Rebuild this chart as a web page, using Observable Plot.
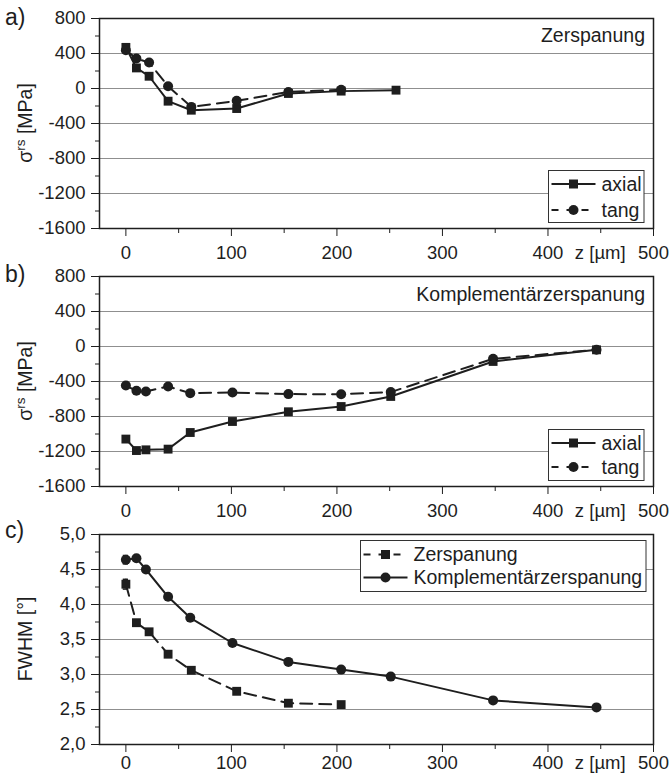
<!DOCTYPE html>
<html><head><meta charset="utf-8">
<script src="https://cdn.jsdelivr.net/npm/d3@7"></script>
<script src="https://cdn.jsdelivr.net/npm/@observablehq/plot@0.6"></script>
<style>
body{margin:0;background:#fff;}
#c{position:relative;width:672px;height:777px;overflow:hidden;}
#c svg{position:absolute;left:0;overflow:visible;}
</style></head><body><div id="c"></div>
<script>
// ---------- data ----------
// panel a) Zerspanung: residual stress sigma_rs [MPa] vs depth z [µm]
const zA_axial = [0, 10, 22, 40, 62, 105, 154, 204, 256];
const sA_axial = [470, 235, 140, -145, -248, -229, -57, -30, -19];
const zA_tang  = [0, 10, 22, 40, 62, 105, 154, 204];
const sA_tang  = [438, 343, 297, 26, -210, -141, -40, -15];
// panel b) Komplementärzerspanung
const zB_axial = [0, 10, 19, 40, 61, 101, 154, 204, 251, 348, 446];
const sB_axial = [-1058, -1189, -1181, -1173, -983, -857, -746, -686, -571, -171, -38];
const zB_tang  = [0, 10, 19, 40, 61, 101, 154, 204, 251, 348, 446];
const sB_tang  = [-446, -506, -514, -457, -533, -526, -544, -545, -521, -141, -38];
// panel c) FWHM [°]
const zC_zer = [0, 10, 22, 40, 62, 105, 154, 204];
const fC_zer = [4.29, 3.74, 3.61, 3.29, 3.06, 2.76, 2.59, 2.57];
const eC_zer = [0.07, 0, 0, 0, 0, 0, 0, 0];
const zC_kom = [0, 10, 19, 40, 61, 101, 154, 204, 251, 348, 446];
const fC_kom = [4.64, 4.66, 4.50, 4.11, 3.81, 3.45, 3.18, 3.07, 2.97, 2.63, 2.53];
const eC_kom = [0.06, 0.03, 0.03, 0.04, 0.04, 0, 0, 0, 0, 0, 0];
// ticks
const xMajor = [0, 100, 200, 300, 400, 500];
const xMinor = [50, 150, 250, 350, 450];
const sMajor = [-1600, -1200, -800, -400, 0, 400, 800];
const sMinor = [-1400, -1000, -600, -200, 200, 600];
const fMajor = [2.0, 2.5, 3.0, 3.5, 4.0, 4.5, 5.0];
const fMinor = [2.25, 2.75, 3.25, 3.75, 4.25, 4.75];

const FONT = '"Liberation Sans", Arial, Helvetica, sans-serif';
const INK = "#1e1e1e";
const TICKFS = 18.5, TEXTFS = 19.5;
const zip = (z, v, e) => z.map((d, i) => ({z: d, v: v[i], e: e ? e[i] : 0}));

function panel(o) {
  const marks = [
    Plot.gridY(o.yMajor.filter(v => v > o.ydomain[0] && v < o.ydomain[1]),
      {stroke: "#8f8f8f", strokeOpacity: 1, strokeWidth: 1}),
    Plot.axisX(xMajor, {label: null, tickSize: 8, tickPadding: o.xPad, fontSize: TICKFS,
      tickFormat: d => (d === 500 ? "500" : String(d)), stroke: INK, fill: INK}),
    Plot.axisX(xMinor, {label: null, tickSize: 5, tickFormat: () => "", stroke: INK}),
    Plot.axisY(o.yMajor, {label: null, tickSize: 8, tickPadding: 6, fontSize: TICKFS, tickFormat: o.yFmt, stroke: INK, fill: INK}),
    Plot.axisY(o.yMinor, {label: null, tickSize: 4, tickFormat: () => "", stroke: INK}),
    Plot.frame({stroke: INK, strokeWidth: 1.5})
  ];
  for (const s of o.series) {
    const data = zip(s.z, s.v, s.e);
    if (s.e) {
      const ed = data.filter(d => d.e > 0);
      marks.push(Plot.ruleX(ed, {x: "z", y1: d => d.v - d.e, y2: d => d.v + d.e, stroke: INK, strokeWidth: 1.5}));
      marks.push(Plot.ruleY(ed, {y: d => d.v + d.e, x1: d => d.z - 2.5, x2: d => d.z + 2.5, stroke: INK, strokeWidth: 1.5}));
      marks.push(Plot.ruleY(ed, {y: d => d.v - d.e, x1: d => d.z - 2.5, x2: d => d.z + 2.5, stroke: INK, strokeWidth: 1.5}));
    }
    marks.push(Plot.line(data, {x: "z", y: "v", stroke: INK, strokeWidth: 2, strokeDasharray: s.dash ? "12,7" : null}));
    marks.push(Plot.dot(data, {x: "z", y: "v", symbol: s.symbol, r: 5, fill: INK, stroke: "none"}));
  }
  const svg = Plot.plot({
    width: 672, height: o.height,
    marginLeft: 99, marginRight: 19, marginTop: 18, marginBottom: o.height - 18 - 210,
    style: {fontFamily: FONT, fontSize: TICKFS + "px", color: INK, background: "transparent"},
    x: {domain: [-25, 500]},
    y: {domain: o.ydomain},
    marks
  });
  svg.style.top = o.top + "px";
  const sel = d3.select(svg);
  const x = svg.scale("x");
  const T = (s) => s.append("text").attr("font-family", FONT).attr("fill", INK).attr("text-anchor", "start");
  // x label between 400 and 500
  T(sel).attr("x", x.apply(450)).attr("y", 228 + 8 + o.xPad).attr("dy", "0.71em")
    .attr("text-anchor", "middle").attr("font-size", TICKFS).text("z [µm]");
  // panel letter
  T(sel).attr("x", 5).attr("y", o.letterY).attr("font-size", 23).text(o.letter);
  // y label
  const yl = T(sel).attr("transform", `translate(32,${18 + 105}) rotate(-90)`)
    .attr("text-anchor", "middle").attr("font-size", 19.5);
  if (o.yLabel === "sigma") {
    yl.append("tspan").text("σ");
    yl.append("tspan").attr("dy", -7).attr("font-size", 13.5).text("rs");
    yl.append("tspan").attr("dy", 7).text(" [MPa]");
  } else {
    yl.text(o.yLabel);
  }
  // title inside
  if (o.title) {
    T(sel).attr("x", 645).attr("y", o.titleY).attr("text-anchor", "end")
      .attr("font-size", TEXTFS).text(o.title);
  }
  // legend
  const L = o.legend;
  const g = sel.append("g");
  g.append("rect").attr("x", L.x).attr("y", L.y).attr("width", L.w).attr("height", L.h)
    .attr("fill", "#fff").attr("stroke", "#333").attr("stroke-width", 1);
  L.items.forEach((it, i) => {
    const cy = L.y + L.r0 + i * L.dr;
    g.append("line").attr("x1", L.x + 3).attr("x2", L.x + L.sw).attr("y1", cy).attr("y2", cy)
      .attr("stroke", INK).attr("stroke-width", 2)
      .attr("stroke-dasharray", it.dash ? "7,8" : null);
    const mx = L.x + 3 + (L.sw - 3) / 2;
    if (it.symbol === "square") g.append("rect").attr("x", mx - 4.5).attr("y", cy - 4.5).attr("width", 9).attr("height", 9).attr("fill", INK);
    else g.append("circle").attr("cx", mx).attr("cy", cy).attr("r", 5).attr("fill", INK);
    T(g).attr("x", L.x + L.sw + 6).attr("y", cy).attr("dy", "0.35em")
      .attr("font-size", TEXTFS).text(it.label);
  });
  document.getElementById("c").appendChild(svg);
}

const fmtS = d => String(d);
const fmtF = d => d.toFixed(1).replace(".", ",");

panel({top: 0, height: 258, xPad: 9.5, ydomain: [-1600, 800], yMajor: sMajor, yMinor: sMinor, yFmt: fmtS,
  letter: "a)", letterY: 25, yLabel: "sigma", title: "Zerspanung", titleY: 42,
  series: [
    {z: zA_axial, v: sA_axial, symbol: "square", dash: false},
    {z: zA_tang, v: sA_tang, symbol: "circle", dash: true}
  ],
  legend: {x: 548.5, y: 170.5, w: 95.5, h: 52, sw: 47, r0: 13.5, dr: 26, items: [
    {label: "axial", symbol: "square", dash: false},
    {label: "tang", symbol: "circle", dash: true}]}
});
panel({top: 258, height: 258, xPad: 9.5, ydomain: [-1600, 800], yMajor: sMajor, yMinor: sMinor, yFmt: fmtS,
  letter: "b)", letterY: 24, yLabel: "sigma", title: "Komplementärzerspanung", titleY: 43,
  series: [
    {z: zB_axial, v: sB_axial, symbol: "square", dash: false},
    {z: zB_tang, v: sB_tang, symbol: "circle", dash: true}
  ],
  legend: {x: 548.5, y: 171.5, w: 95.5, h: 51, sw: 47, r0: 13.5, dr: 24, items: [
    {label: "axial", symbol: "square", dash: false},
    {label: "tang", symbol: "circle", dash: true}]}
});
panel({top: 516, height: 261, xPad: 3.5, ydomain: [2.0, 5.0], yMajor: fMajor, yMinor: fMinor, yFmt: fmtF,
  letter: "c)", letterY: 22, yLabel: "FWHM [°]", title: null,
  series: [
    {z: zC_zer, v: fC_zer, e: eC_zer, symbol: "square", dash: true},
    {z: zC_kom, v: fC_kom, e: eC_kom, symbol: "circle", dash: false}
  ],
  legend: {x: 360.5, y: 24.5, w: 285.5, h: 51, sw: 47, r0: 14, dr: 23, items: [
    {label: "Zerspanung", symbol: "square", dash: true},
    {label: "Komplementärzerspanung", symbol: "circle", dash: false}]}
});
</script></body></html>
